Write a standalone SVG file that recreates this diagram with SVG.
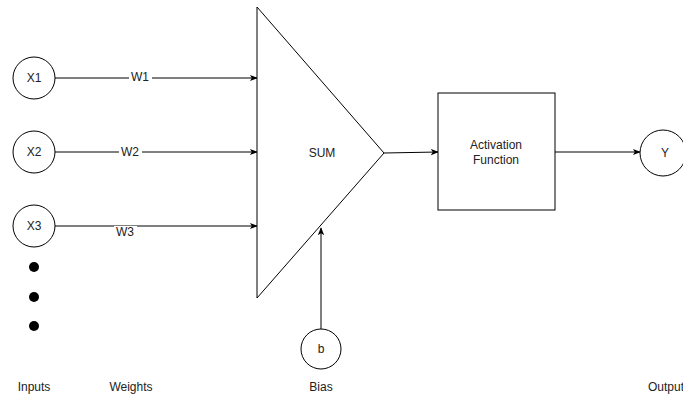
<svg xmlns="http://www.w3.org/2000/svg" width="683" height="395" viewBox="0 0 683 395">
<defs>
<marker id="arr" viewBox="0 0 10 10" refX="9" refY="5" markerWidth="8" markerHeight="8" markerUnits="userSpaceOnUse" orient="auto">
<path d="M0,1 L10,5 L0,9 L2.5,5 Z" fill="#000"/>
</marker>
</defs>
<style>
.s{fill:#fff;stroke:#000;stroke-width:1}
.t{font-family:"Liberation Sans",Arial,sans-serif;font-size:12px;fill:#222;text-anchor:middle;dominant-baseline:central}
.c{fill:none;stroke:#000;stroke-width:1}
.lbl{font-family:"Liberation Sans",Arial,sans-serif;font-size:12px;fill:#222;text-anchor:middle;dominant-baseline:central}
</style>
<rect width="683" height="395" fill="#fff"/>
<g id="connectors">
<line class="c" x1="55" y1="78" x2="257" y2="78" marker-end="url(#arr)"/>
<line class="c" x1="55" y1="152" x2="257" y2="152" marker-end="url(#arr)"/>
<line class="c" x1="55" y1="226" x2="257" y2="226" marker-end="url(#arr)"/>
<line class="c" x1="384" y1="153" x2="438" y2="152" marker-end="url(#arr)"/>
<line class="c" x1="555" y1="152" x2="640" y2="152" marker-end="url(#arr)"/>
<line class="c" x1="321" y1="329" x2="321" y2="228" marker-end="url(#arr)"/>
<rect x="129" y="71" width="23" height="13" fill="#fff"/>
<text class="lbl" x="140" y="77">W1</text>
<rect x="119" y="145" width="23" height="13" fill="#fff"/>
<text class="lbl" x="130" y="152">W2</text>
<rect x="114" y="226" width="23" height="12" fill="#fff"/>
<text class="lbl" x="125" y="232">W3</text>
</g>
<g id="x1"><circle class="s" cx="34" cy="78" r="21"/><text class="t" x="34" y="78">X1</text></g>
<g id="x2"><circle class="s" cx="34" cy="152" r="21"/><text class="t" x="34" y="152">X2</text></g>
<g id="x3"><circle class="s" cx="34" cy="226" r="21"/><text class="t" x="34" y="226">X3</text></g>
<g id="dots">
<circle cx="34" cy="267" r="5" fill="#000"/>
<circle cx="34" cy="297" r="5" fill="#000"/>
<circle cx="34" cy="326" r="5" fill="#000"/>
</g>
<g id="sum"><path class="s" d="M257,7 L384,153 L257,298 Z"/><text class="t" x="322" y="153">SUM</text></g>
<g id="activation"><rect class="s" x="438" y="93" width="117" height="117"/><text class="t" x="496" y="145">Activation</text><text class="t" x="496" y="160">Function</text></g>
<g id="y"><circle class="s" cx="663" cy="153" r="23"/><text class="t" x="665" y="153">Y</text></g>
<g id="b"><circle class="s" cx="321" cy="349" r="20"/><text class="t" x="321" y="349">b</text></g>
<g id="labels">
<text class="lbl" x="34" y="387">Inputs</text>
<text class="lbl" x="131" y="387">Weights</text>
<text class="lbl" x="321" y="387">Bias</text>
<text class="lbl" x="648" y="387" style="text-anchor:start">Output</text>
</g>
</svg>
